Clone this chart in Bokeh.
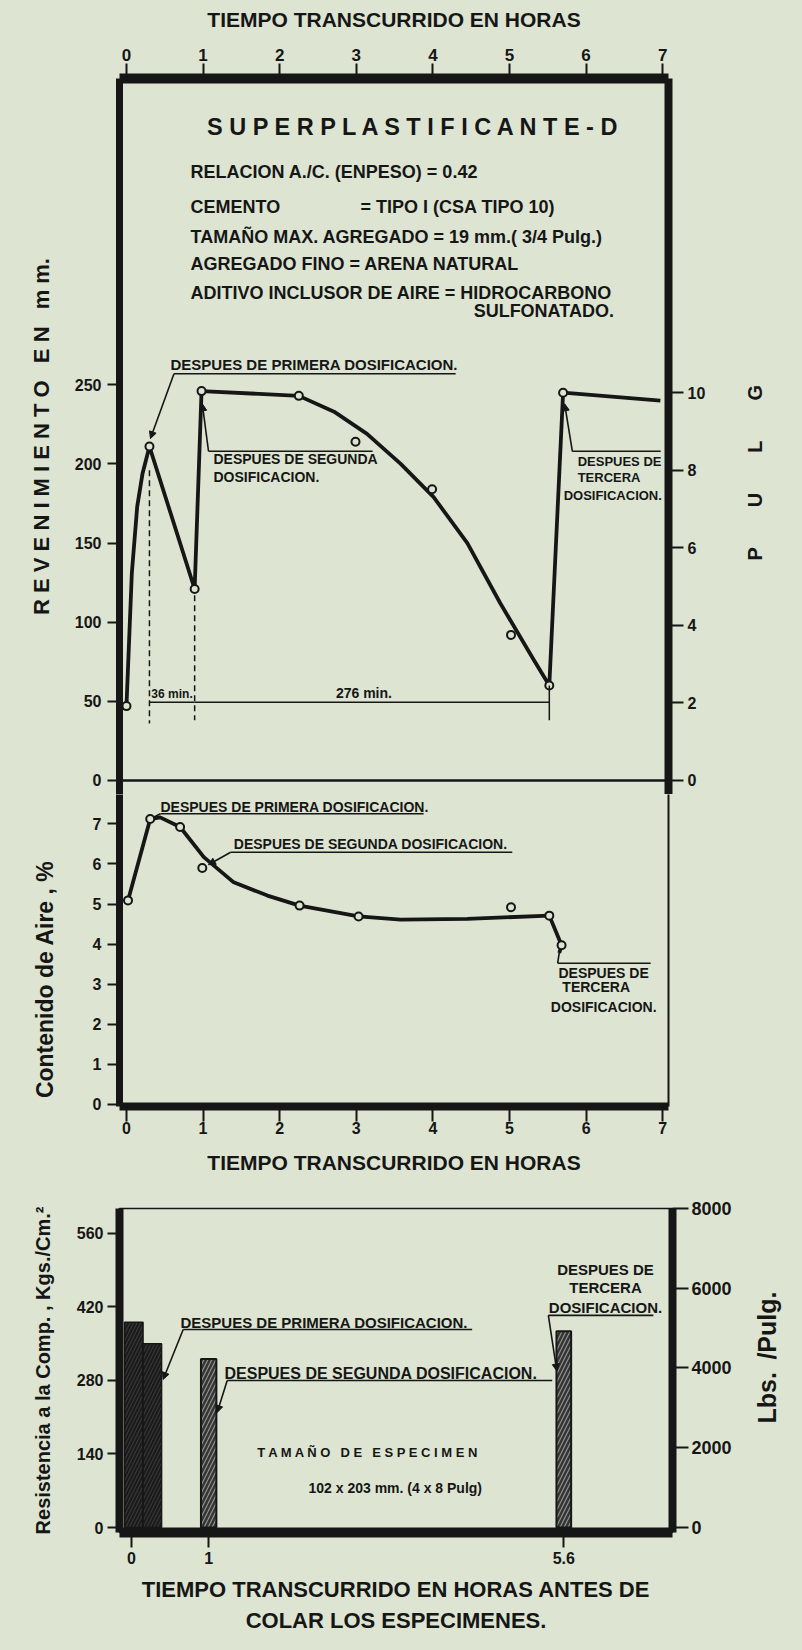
import math
from bokeh.plotting import figure
from bokeh.models import (Range1d, LinearAxis, FixedTicker, Span, Label, Arrow,
                          NormalHead, Title, NumeralTickFormatter)
from bokeh.layouts import column, row
from bokeh.embed import file_html
from bokeh.resources import INLINE

BG = "#dde5d2"
INK = "#161616"
FONT = "Liberation Sans"

# ---------------- data ----------------
hour_ticks = [0, 1, 2, 3, 4, 5, 6, 7]
slump_mm_ticks = [0, 50, 100, 150, 200, 250]
slump_in_ticks = [0, 2, 4, 6, 8, 10]
air_ticks = [0, 1, 2, 3, 4, 5, 6, 7]
strength_kg_ticks = [0, 140, 280, 420, 560]
strength_psi_ticks = [0, 2000, 4000, 6000, 8000]
cast_hour_ticks = [0, 1, 5.6]

# slump (revenimiento) curve, hours vs mm
slump_curve_hr = [0.0, 0.07, 0.14, 0.21, 0.30, 0.89, 0.98, 2.25, 2.71, 3.14,
                  3.58, 4.01, 4.45, 4.88, 5.32, 5.52, 5.70, 6.97]
slump_curve_mm = [47, 131, 173, 194, 211, 121, 246, 243, 233, 219,
                  200, 179, 150, 112, 76, 60, 245, 240]
# measured slump points (open circles)
slump_meas_hr = [0.0, 0.30, 0.89, 0.98, 2.25, 2.99, 3.99, 5.02, 5.52, 5.70]
slump_meas_mm = [47, 211, 121, 246, 243, 214, 184, 92, 60, 245]

# air content curve, hours vs %
air_curve_hr = [0.02, 0.31, 0.44, 0.70, 1.01, 1.40, 1.84, 2.26, 3.03, 3.58,
                4.45, 5.52, 5.68, 5.65]
air_curve_pct = [5.09, 7.12, 7.16, 6.92, 6.17, 5.54, 5.21, 4.96, 4.69, 4.61,
                 4.63, 4.71, 3.97, 3.78]
air_meas_hr = [0.02, 0.31, 0.70, 0.99, 2.26, 3.03, 5.02, 5.52, 5.68]
air_meas_pct = [5.09, 7.12, 6.92, 5.90, 4.96, 4.69, 4.92, 4.71, 3.97]

# compressive strength bars (kg/cm2) by casting time
strength_hr = [0.03, 0.27, 1.0, 5.6]
strength_kg = [391, 350, 321, 374]
bar_width_hr = [0.24, 0.24, 0.20, 0.19]

MM_PER_IN = 24.51


# ---------------- helpers ----------------
def style_axis(ax, size, lw, tick_out, standoff):
    ax.axis_line_width = lw
    ax.axis_line_color = INK
    ax.major_tick_out = tick_out
    ax.major_tick_in = 0
    ax.major_tick_line_width = 2
    ax.major_tick_line_color = INK
    ax.minor_tick_line_color = None
    ax.major_label_text_font = FONT
    ax.major_label_text_font_size = f"{size}px"
    ax.major_label_text_font_style = "bold"
    ax.major_label_text_color = INK
    ax.major_label_standoff = standoff
    ax.axis_label_text_font = FONT
    ax.axis_label_text_font_style = "bold"
    ax.axis_label_text_color = INK


def text(p, x, y, s, size, align="left", baseline="middle"):
    p.add_layout(Label(x=x, y=y, text=s, text_font=FONT, text_font_size=f"{size}px",
                       text_font_style="bold", text_color=INK, text_align=align,
                       text_baseline=baseline))


def seg(p, x0, y0, x1, y1, head=False, dash="solid", lw=1.6):
    end = NormalHead(size=7, fill_color=INK, line_color=INK, line_width=1) if head else None
    p.add_layout(Arrow(x_start=x0, y_start=y0, x_end=x1, y_end=y1, line_color=INK,
                       line_width=lw, line_dash=dash, end=end))


def base_fig(**kw):
    p = figure(output_backend="svg", toolbar_location=None,
               background_fill_color=BG, border_fill_color=BG,
               outline_line_color=None, **kw)
    p.grid.visible = False
    return p


def side_title_fig(width, height, border_left, label, size, offset):
    # narrow strip carrying a vertical unit title that reads bottom-to-top
    q = base_fig(width=width, height=height, x_range=Range1d(0, 1), y_range=Range1d(0, 1),
                 x_axis_location=None, y_axis_location=None,
                 min_border_left=border_left, min_border_right=0,
                 min_border_top=0, min_border_bottom=0)
    q.add_layout(Title(text=label, align="left", offset=offset, standoff=4,
                       text_font=FONT, text_font_size=f"{size}px",
                       text_font_style="bold", text_color=INK), "left")
    return q


# ---------------- panel A: slump ----------------
A_LO, A_HI = -8.845, 443.5
pA = base_fig(width=721, height=794, x_range=Range1d(-0.091, 7.076),
              y_range=Range1d(A_LO, A_HI), x_axis_location="above",
              min_border_left=119, min_border_right=53, min_border_top=78,
              min_border_bottom=0)
pA.extra_y_ranges = {"inch": Range1d(A_LO / MM_PER_IN, A_HI / MM_PER_IN)}

axT = pA.xaxis[0]
axT.ticker = FixedTicker(ticks=hour_ticks)
style_axis(axT, 17, 10, 15, 3)
axT.axis_label = "TIEMPO TRANSCURRIDO EN HORAS"
axT.axis_label_text_font_size = "21px"
axT.axis_label_standoff = 15

axL = pA.yaxis[0]
axL.ticker = FixedTicker(ticks=slump_mm_ticks)
style_axis(axL, 16, 7, 12, 6)
axL.axis_label = "R E V E N I M I E N T O\u2002 E N\u2002 m m."
axL.axis_label_text_font_size = "22px"
axL.axis_label_standoff = 18

axR = LinearAxis(y_range_name="inch", ticker=FixedTicker(ticks=slump_in_ticks))
style_axis(axR, 16, 8, 15, 4)
pA.add_layout(axR, "right")

pA.add_layout(Span(location=0, dimension="width", line_color=INK, line_width=2.5))

pA.line(slump_curve_hr, slump_curve_mm, line_width=3.8, line_color=INK, line_join="round")
pA.scatter(slump_meas_hr, slump_meas_mm, marker="circle", size=8, fill_color=BG,
           line_color=INK, line_width=2)

# header texts
text(pA, 3.761, 412.7, "S U P E R P L A S T I F I C A N T E - D", 23.5, align="center")
text(pA, 0.836, 384.3, "RELACION A./C. (ENPESO) = 0.42", 18)
text(pA, 0.836, 362.6, "CEMENTO", 18)
text(pA, 3.056, 362.6, "= TIPO I  (CSA TIPO 10)", 18)
text(pA, 0.836, 343.3, "TAMAÑO MAX. AGREGADO = 19 mm.( 3/4 Pulg.)", 18)
text(pA, 0.836, 326.0, "AGREGADO FINO  = ARENA NATURAL", 18)
text(pA, 0.836, 307.7, "ADITIVO INCLUSOR DE AIRE = HIDROCARBONO", 18)
text(pA, 4.532, 296.5, "SULFONATADO.", 18)

# dosage notes
text(pA, 0.575, 262.8, "DESPUES DE PRIMERA DOSIFICACION.", 15)
seg(pA, 0.62, 257.0, 4.297, 257.0)
seg(pA, 0.62, 257.0, 0.313, 216.0, head=True)

text(pA, 1.136, 203.4, "DESPUES DE SEGUNDA", 14)
text(pA, 1.136, 191.6, "DOSIFICACION.", 14)
seg(pA, 1.071, 208.0, 3.213, 208.0)
seg(pA, 1.071, 208.0, 0.99, 238.0, head=True)

text(pA, 5.89, 201.7, "DESPUES DE", 13)
text(pA, 5.89, 191.6, "TERCERA", 13)
text(pA, 5.707, 180.1, "DOSIFICACION.", 13)
seg(pA, 5.821, 208.0, 6.974, 208.0)
seg(pA, 5.821, 208.0, 5.72, 238.0, head=True)

# time interval dimension lines
t_peak, t_low, t_min2 = slump_meas_hr[1], slump_meas_hr[2], slump_meas_hr[8]
dim_y = 49.5
seg(pA, t_peak, slump_meas_mm[1] - 15, t_peak, 36, dash="6 4", lw=1.5)
seg(pA, t_low, slump_meas_mm[2] - 4, t_low, 38, dash="6 4", lw=1.5)
seg(pA, t_min2, slump_meas_mm[8], t_min2, 38, lw=1.5)
seg(pA, t_peak, dim_y, t_low, dim_y, lw=1.5)
seg(pA, t_low, dim_y, t_min2, dim_y, lw=1.5)
text(pA, (t_peak + t_low) / 2, dim_y + 1, "36 min.", 12, align="center", baseline="bottom")
text(pA, 3.10, dim_y + 1, "276 min.", 14, align="center", baseline="bottom")

# ---------------- panel B: air content ----------------
pB = base_fig(width=721, height=391, x_range=Range1d(-0.091, 7.076),
              y_range=Range1d(-0.05, 7.731),
              min_border_left=119, min_border_right=53, min_border_top=0,
              min_border_bottom=79)

axB = pB.xaxis[0]
axB.ticker = FixedTicker(ticks=hour_ticks)
style_axis(axB, 16, 8, 15, 0)
axB.axis_label = "TIEMPO TRANSCURRIDO EN HORAS"
axB.axis_label_text_font_size = "21px"
axB.axis_label_standoff = 14

axBL = pB.yaxis[0]
axBL.ticker = FixedTicker(ticks=air_ticks)
style_axis(axBL, 16, 7, 12, 6)
axBL.axis_label = "Contenido de Aire , %\u2003\u2003\u2002"
axBL.axis_label_text_font_size = "23px"
axBL.axis_label_standoff = 32

axBR = LinearAxis(ticker=FixedTicker(ticks=[]))
axBR.axis_line_width = 2
axBR.axis_line_color = INK
axBR.major_tick_line_color = None
axBR.minor_tick_line_color = None
axBR.major_label_text_font_size = "0px"
pB.add_layout(axBR, "right")

pB.line(air_curve_hr, air_curve_pct, line_width=3.8, line_color=INK, line_join="round")
pB.scatter(air_meas_hr, air_meas_pct, marker="circle", size=8, fill_color=BG,
           line_color=INK, line_width=2)

text(pB, 0.444, 7.41, "DESPUES DE PRIMERA DOSIFICACION.", 14)
seg(pB, 0.444, 7.25, 3.879, 7.25)
seg(pB, 0.444, 7.25, 0.36, 7.17)

text(pB, 1.401, 6.50, "DESPUES DE SEGUNDA DOSIFICACION.", 14)
seg(pB, 1.36, 6.29, 5.037, 6.29)
seg(pB, 1.36, 6.29, 1.07, 5.98, head=True)

text(pB, 5.64, 3.27, "DESPUES DE", 14)
text(pB, 5.69, 2.92, "TERCERA", 14)
text(pB, 5.54, 2.42, "DOSIFICACION.", 14)
seg(pB, 5.629, 3.524, 6.843, 3.524)
seg(pB, 5.65, 3.78, 5.629, 3.524)

# ---------------- panel C: compressive strength ----------------
pC = base_fig(width=740, height=463, x_range=Range1d(-0.155, 7.008),
              y_range=Range1d(-9.52, 607.6),
              min_border_left=119, min_border_right=68, min_border_top=23,
              min_border_bottom=116)
pC.outline_line_color = INK
pC.outline_line_width = 1.5
pC.extra_y_ranges = {"psi": Range1d(-125.4, 8000)}

axC = pC.xaxis[0]
axC.ticker = FixedTicker(ticks=cast_hour_ticks)
axC.formatter = NumeralTickFormatter(format="0.[0]")
style_axis(axC, 16, 10, 15, 4)
axC.axis_label = "TIEMPO TRANSCURRIDO EN HORAS ANTES DE"
axC.axis_label_text_font_size = "22px"
axC.axis_label_standoff = 10
pC.add_layout(Title(text="COLAR LOS ESPECIMENES.", align="center", text_font=FONT,
                    text_font_size="22px", text_font_style="bold", text_color=INK,
                    standoff=2), "below")

axCL = pC.yaxis[0]
axCL.ticker = FixedTicker(ticks=strength_kg_ticks)
style_axis(axCL, 16, 8, 12, 4)
axCL.axis_label = "Resistencia a la Comp. , Kgs./Cm.²"
axCL.axis_label_text_font_size = "20px"
axCL.axis_label_standoff = 20

axCR = LinearAxis(y_range_name="psi", ticker=FixedTicker(ticks=strength_psi_ticks))
style_axis(axCR, 18, 8, 16, 3)
pC.add_layout(axCR, "right")

pC.vbar(x=strength_hr[:2], width=bar_width_hr[:2], top=strength_kg[:2], bottom=0,
        fill_color="#1b1b1b", line_color=INK, line_width=1.5,
        hatch_pattern="/", hatch_color="#3c3c3c", hatch_scale=7, hatch_weight=1)
pC.vbar(x=strength_hr[2:], width=bar_width_hr[2:], top=strength_kg[2:], bottom=0,
        fill_color="#343434", line_color=INK, line_width=2,
        hatch_pattern="/", hatch_color="#8d928a", hatch_scale=8, hatch_weight=1.2)

text(pC, 0.635, 391, "DESPUES DE PRIMERA DOSIFICACION.", 15)
seg(pC, 0.67, 377, 4.413, 377)
seg(pC, 0.67, 377, 0.41, 282, head=True)

text(pC, 1.205, 293, "DESPUES DE SEGUNDA DOSIFICACION.", 16)
seg(pC, 1.24, 280, 5.45, 280)
seg(pC, 1.24, 280, 1.11, 219, head=True)

text(pC, 6.14, 491, "DESPUES DE", 15, align="center")
text(pC, 6.14, 457, "TERCERA", 15, align="center")
text(pC, 6.14, 419, "DOSIFICACION.", 15, align="center")
seg(pC, 5.40, 404, 6.76, 404)
seg(pC, 5.40, 404, 5.51, 298, head=True)

text(pC, 1.628, 143.4, "T A M A Ñ O\u2002 D E\u2002 E S P E C I M E N", 13)
text(pC, 2.293, 74.3, "102 x 203 mm. (4 x 8 Pulg)", 14)

# ---------------- right-hand unit titles ----------------
qA = side_title_fig(81, 1185, 46, "P\u2003\u2003U\u2003\u2003L\u2003\u2003G", 20, 625)
qC = side_title_fig(62, 463, 42, "Lbs.\u2002/Pulg.", 25, 109)

layout = column(row(column(pA, pB), qA), row(pC, qC))
html = file_html(layout, INLINE, title="Superplastificante-D")
html = html.replace("</head>", f"<style>html, body {{ background-color: {BG}; }}</style></head>", 1)
open("out.html", "w").write(html)
